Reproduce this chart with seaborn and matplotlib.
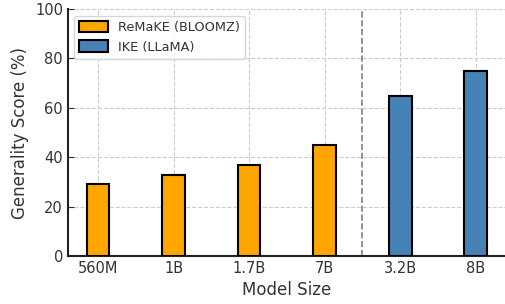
import pandas as pd
import matplotlib
matplotlib.use("Agg")
import matplotlib.pyplot as plt
import seaborn as sns

# data
model_sizes = ["560M", "1B", "1.7B", "7B", "3.2B", "8B"]
scores = [29, 33, 37, 45, 65, 75]
methods = ["ReMaKE (BLOOMZ)"] * 4 + ["IKE (LLaMA)"] * 2
palette = {"ReMaKE (BLOOMZ)": "#FFA500", "IKE (LLaMA)": "#4682B4"}

df = pd.DataFrame({"Model Size": model_sizes, "Score": scores, "Method": methods})

sns.set_style("ticks")
plt.rcParams["font.family"] = ["DejaVu Sans"]

fig = plt.figure(figsize=(5.06, 3.04), dpi=100)
ax = fig.add_axes([0.134, 0.158, 0.866, 0.812])

sns.barplot(data=df, x="Model Size", y="Score", hue="Method", dodge=False,
            order=model_sizes, palette=palette, width=0.3, saturation=1,
            edgecolor="black", linewidth=1.5, ax=ax, zorder=3)

ax.axvline(3.5, color="gray", linestyle="--", linewidth=1.2, zorder=2)

ax.set_xlim(-0.4, 5.4)
ax.set_ylim(0, 100)
ax.set_yticks([0, 20, 40, 60, 80, 100])
ax.grid(True, linestyle="--", color="#cccccc", linewidth=0.8, zorder=0)
ax.set_axisbelow(True)
ax.tick_params(direction="in", labelsize=10.5, colors="#333333", length=4)
ax.tick_params(axis="both", labelcolor="#333333")
ax.set_xlabel("Model Size", fontsize=12, color="#333333")
ax.set_ylabel("Generality Score (%)", fontsize=12, color="#333333")
sns.despine(ax=ax, top=True, right=True)
for s in ["left", "bottom"]:
    ax.spines[s].set_linewidth(1.5)
    ax.spines[s].set_color("#222222")

leg = ax.legend(loc="upper left", fontsize=9.3, frameon=True,
                handlelength=2.2, handleheight=1.0)
leg.get_frame().set_edgecolor("#cccccc")
for t in leg.get_texts():
    t.set_color("#333333")

fig.savefig("out.png", dpi=100)
